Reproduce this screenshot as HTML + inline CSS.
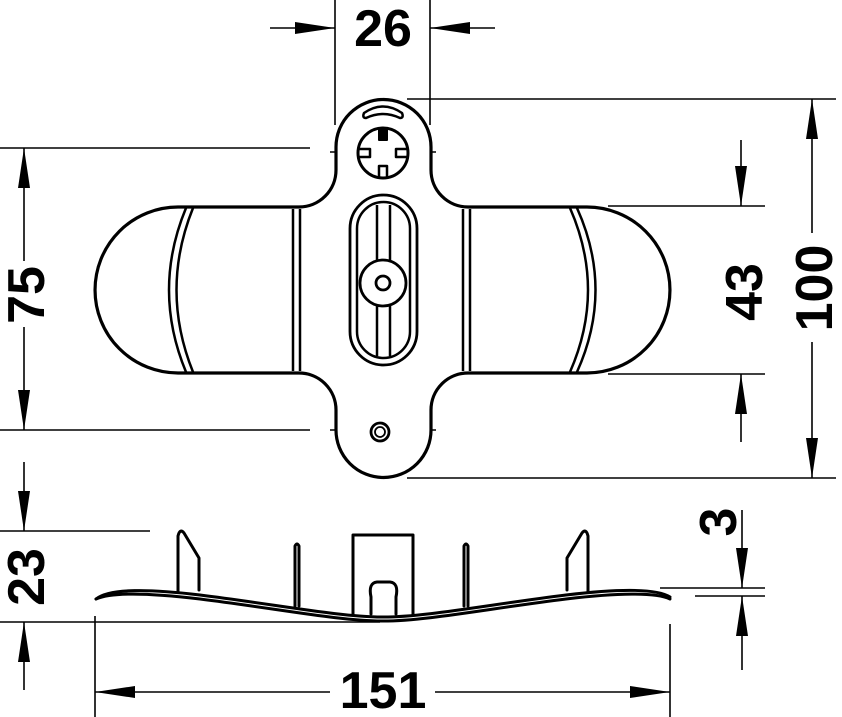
<!DOCTYPE html>
<html><head><meta charset="utf-8"><style>
html,body{margin:0;padding:0;background:#fff;}
svg{display:block;}
text{font-family:"Liberation Sans",sans-serif;font-weight:bold;fill:#000;}
</style></head><body>
<svg width="842" height="717" viewBox="0 0 842 717" xmlns="http://www.w3.org/2000/svg">
<defs>
<marker id="a" viewBox="0 0 40 12" refX="40" refY="6" markerWidth="40" markerHeight="12" markerUnits="userSpaceOnUse" orient="auto">
<path d="M0,0 L40,6 L0,12 Z" fill="#000"/>
</marker>
</defs>
<g stroke="#000" stroke-width="1.6" fill="none">
<line x1="335" y1="0" x2="335" y2="125"/>
<line x1="430" y1="0" x2="430" y2="125"/>
<line x1="270" y1="28" x2="335" y2="28" marker-end="url(#a)"/>
<line x1="495" y1="28" x2="430" y2="28" marker-end="url(#a)"/>
<line x1="407" y1="99" x2="836" y2="99"/>
<line x1="407" y1="478" x2="836" y2="478"/>
<line x1="812" y1="233" x2="812" y2="99" marker-end="url(#a)"/>
<line x1="812" y1="342" x2="812" y2="478" marker-end="url(#a)"/>
<line x1="608" y1="206" x2="765" y2="206"/>
<line x1="608" y1="374" x2="765" y2="374"/>
<line x1="741" y1="140" x2="741" y2="206" marker-end="url(#a)"/>
<line x1="741" y1="442" x2="741" y2="374" marker-end="url(#a)"/>
<line x1="0" y1="148" x2="310" y2="148"/>
<line x1="0" y1="430" x2="310" y2="430"/>
<line x1="24" y1="261" x2="24" y2="148" marker-end="url(#a)"/>
<line x1="24" y1="327" x2="24" y2="430" marker-end="url(#a)"/>
<line x1="0" y1="531" x2="150" y2="531"/>
<line x1="0" y1="622" x2="380" y2="622"/>
<line x1="24" y1="462" x2="24" y2="531" marker-end="url(#a)"/>
<line x1="24" y1="690" x2="24" y2="622" marker-end="url(#a)"/>
<line x1="660" y1="588" x2="765" y2="588"/>
<line x1="695" y1="596" x2="765" y2="596"/>
<line x1="742" y1="510" x2="742" y2="588" marker-end="url(#a)"/>
<line x1="742" y1="670" x2="742" y2="596" marker-end="url(#a)"/>
<line x1="95" y1="616" x2="95" y2="717"/>
<line x1="670" y1="624" x2="670" y2="717"/>
<line x1="330" y1="692" x2="95" y2="692" marker-end="url(#a)"/>
<line x1="435" y1="692" x2="670" y2="692" marker-end="url(#a)"/>
<line x1="383" y1="115" x2="383" y2="190" stroke-dasharray="14,4,3,4"/>
<line x1="383" y1="370" x2="383" y2="475" stroke-dasharray="14,4,3,4"/>
<line x1="330" y1="152" x2="436" y2="152" stroke-dasharray="14,4,3,4"/>
<line x1="330" y1="430" x2="436" y2="430" stroke-dasharray="14,4,3,4"/>
</g>

<g stroke="#000" stroke-width="3.2" fill="none" stroke-linejoin="round">
<path d="M336,147 A47.5,47.5 0 0 1 431,147 L431,170 A37,37 0 0 0 468,207 L587,207 A83,83 0 0 1 587,373 L468,373 A37,37 0 0 0 431,410 L431,430 A47.5,47.5 0 0 1 336,430 L336,410 A37,37 0 0 0 299,373 L178,373 A83,83 0 0 1 178,207 L299,207 A37,37 0 0 0 336,170 Z" fill="#fff"/>
<line x1="293" y1="209" x2="293" y2="371" stroke-width="2.5"/>
<line x1="300" y1="209" x2="300" y2="371" stroke-width="2.5"/>
<line x1="463" y1="209" x2="463" y2="371" stroke-width="2.5"/>
<line x1="470" y1="209" x2="470" y2="371" stroke-width="2.5"/>
<path d="M186,208 Q152,290 186,372" stroke-width="2.5"/>
<path d="M193,208 Q160,290 193,372" stroke-width="2.5"/>
<path d="M577,208 Q614,290 577,372" stroke-width="2.5"/>
<path d="M570,208 Q606,290 570,372" stroke-width="2.5"/>
<rect x="350" y="195" width="67" height="170" rx="33.5" stroke-width="2.8"/>
<rect x="357" y="202" width="53" height="156" rx="26.5" stroke-width="2.5"/>
<line x1="377" y1="205" x2="377" y2="262" stroke-width="2.5"/>
<line x1="390" y1="205" x2="390" y2="262" stroke-width="2.5"/>
<line x1="377" y1="304" x2="377" y2="356" stroke-width="2.5"/>
<line x1="390" y1="304" x2="390" y2="356" stroke-width="2.5"/>
<circle cx="383" cy="283" r="23" fill="#fff" stroke-width="2.8"/>
<circle cx="383" cy="283" r="7" stroke-width="2.8"/>
<path d="M364,113 Q383,100 402,113 Q404,118 400,118 Q383,110 366,118 Q362,118 364,113 Z" stroke-width="2.5"/>
<circle cx="383" cy="153" r="25" stroke-width="3"/>
<path d="M379,128 L379,140 L387,140 L387,128" fill="#000" stroke-width="2"/>
<path d="M358,149 L370,149 L370,157 L358,157" stroke-width="2.5"/>
<path d="M408,149 L396,149 L396,157 L408,157" stroke-width="2.5"/>
<path d="M379,178 L379,166 L387,166 L387,178" stroke-width="2.5"/>
<circle cx="380" cy="432" r="9" stroke-width="2.8"/>
<circle cx="380" cy="432" r="5" stroke-width="1.8"/>
</g>

<g stroke="#000" stroke-width="3" fill="none" stroke-linejoin="round" stroke-linecap="round">
<path d="M96,599 C110,588 150,589 200,595 C280,605 340,617 383,617 C426,617 486,605 566,595 C616,589 656,588 670,597"/>
<path d="M96,599 C112,592 150,593 200,599 C280,609 340,621 383,621 C426,621 486,609 566,599 C616,593 656,592 670,599"/>
<path d="M178,592 L178,536 Q180,528 184,533 L199,558 L199,590"/>
<path d="M567,590 L567,558 L582,533 Q586,528 588,536 L588,592"/>
<path d="M295,606 L295,546 Q297,542 299,546 L299,606"/>
<path d="M464,606 L464,546 Q466,542 468,546 L468,606"/>
<path d="M353,615 L353,535 L413,535 L413,615"/>
<path d="M371,614 L371,597 Q368,583 377,582 L390,582 Q399,583 396,597 L396,614"/>
</g>

<text x="383" y="46" font-size="52" text-anchor="middle">26</text>
<text x="383" y="708" font-size="52" text-anchor="middle">151</text>
<text transform="translate(832,288) rotate(-90)" font-size="52" text-anchor="middle">100</text>
<text transform="translate(762,292) rotate(-90)" font-size="52" text-anchor="middle">43</text>
<text transform="translate(44,295) rotate(-90)" font-size="52" text-anchor="middle">75</text>
<text transform="translate(44,577) rotate(-90)" font-size="52" text-anchor="middle">23</text>
<text transform="translate(736,522) rotate(-90)" font-size="52" text-anchor="middle">3</text>
</svg>
</body></html>
